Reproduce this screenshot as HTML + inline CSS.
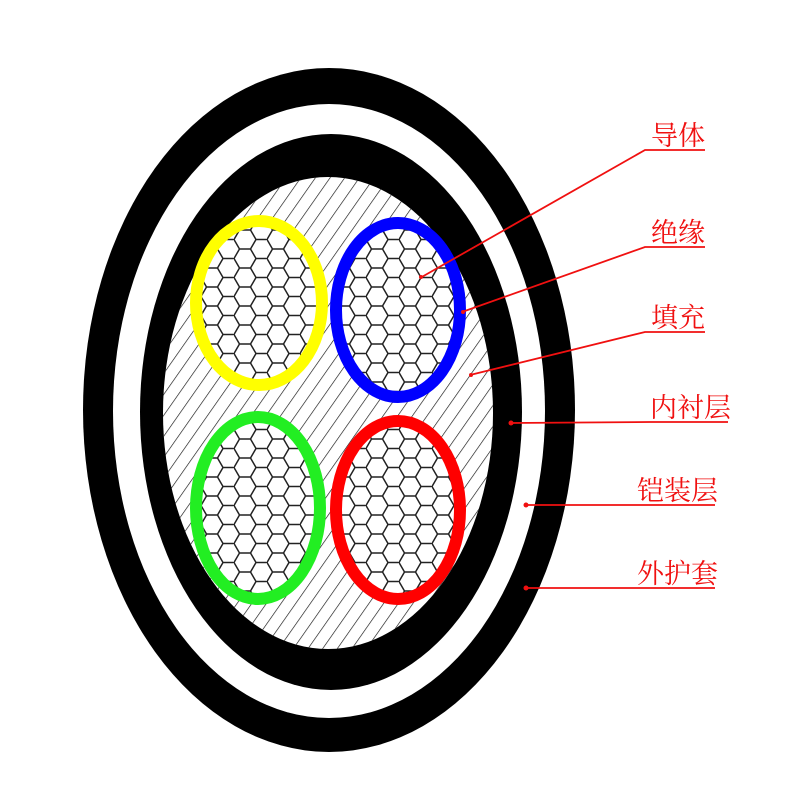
<!DOCTYPE html>
<html><head><meta charset="utf-8"><style>
html,body{margin:0;padding:0;background:#fff;}
svg{display:block}
text{font-family:"Liberation Serif","Noto Serif CJK SC",serif;font-size:27px;fill:#f01010}
</style></head><body>
<svg width="800" height="800" viewBox="0 0 800 800" xmlns="http://www.w3.org/2000/svg">
<defs>
<pattern id="hatch" patternUnits="userSpaceOnUse" width="12" height="12" patternTransform="rotate(35)">
<line x1="0" y1="0" x2="0" y2="12" stroke="#111" stroke-width="1.3"/>
</pattern>
<pattern id="hex" patternUnits="userSpaceOnUse" width="33" height="19" patternTransform="translate(3,2)">
<path d="M0,9.5 L5.5,0 L16.5,0 L22,9.5 L16.5,19 L5.5,19 Z M22,9.5 L33,9.5" fill="none" stroke="#222" stroke-width="1.5"/>
</pattern>
</defs>
<ellipse cx="329" cy="410" rx="246" ry="342" fill="#000"/>
<ellipse cx="329" cy="411" rx="216" ry="307" fill="#fff"/>
<ellipse cx="331" cy="412" rx="191" ry="278" fill="#000"/>
<ellipse cx="328" cy="413" rx="165" ry="236" fill="#fff"/>
<ellipse cx="328" cy="413" rx="165" ry="236" fill="url(#hatch)"/>
<g stroke-width="12">
<ellipse cx="259" cy="303" rx="63" ry="82" fill="#fff"/>
<ellipse cx="259" cy="303" rx="63" ry="82" fill="url(#hex)" stroke="#ffff00"/>
<ellipse cx="398" cy="310" rx="62" ry="87" fill="#fff"/>
<ellipse cx="398" cy="310" rx="62" ry="87" fill="url(#hex)" stroke="#0000ff"/>
<ellipse cx="258" cy="508" rx="62" ry="91" fill="#fff"/>
<ellipse cx="258" cy="508" rx="62" ry="91" fill="url(#hex)" stroke="#22ee22"/>
<ellipse cx="398" cy="510" rx="62" ry="89" fill="#fff"/>
<ellipse cx="398" cy="510" rx="62" ry="89" fill="url(#hex)" stroke="#ff0000"/>
</g>
<g stroke="#f01010" stroke-width="1.8" fill="none">
<path d="M705,150 L645,150 L420,278"/>
<path d="M705,247 L645,247 L462,312"/>
<path d="M705,332 L645,332 L470,375"/>
<path d="M728,422 L650,422 L510,423"/>
<path d="M715,505 L637,505 L525,505"/>
<path d="M715,588 L637,588 L525,588"/>
</g>
<g fill="#f01010">
<circle cx="421" cy="277" r="2"/><circle cx="463" cy="312" r="2"/><circle cx="471" cy="375" r="2"/>
<circle cx="511" cy="423" r="2.5"/><circle cx="526" cy="505" r="2.5"/><circle cx="526" cy="588" r="2.5"/>
</g>
<text x="651" y="145">导体</text>
<text x="651" y="242">绝缘</text>
<text x="651" y="327">填充</text>
<text x="650" y="417">内衬层</text>
<text x="637" y="500">铠装层</text>
<text x="637" y="583">外护套</text>
</svg>
</body></html>
